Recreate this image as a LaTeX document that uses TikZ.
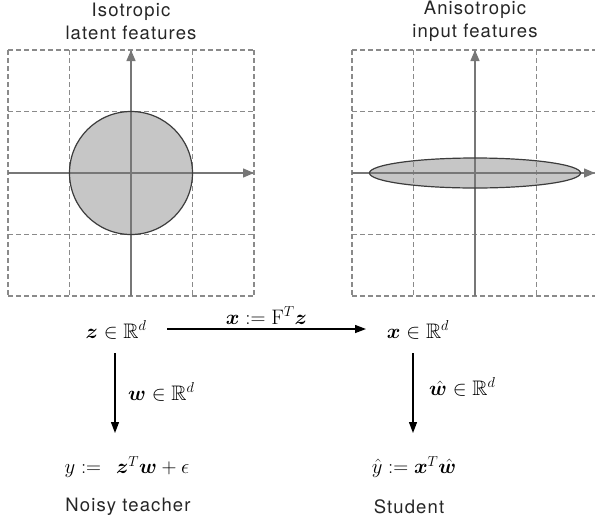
\documentclass[tikz,border=0pt]{standalone}
\usepackage{amsmath,amssymb,bm}
\usepackage{fontspec}
\newfontfamily\labelfont[LetterSpace=6]{TeX Gyre Heros}
\usetikzlibrary{arrows.meta}
\definecolor{gridc}{HTML}{8A8A8A}
\definecolor{axisc}{HTML}{777777}
\definecolor{shapefill}{HTML}{C6C6C6}
\definecolor{shapeedge}{HTML}{3C3C3C}
\tikzset{
  gridline/.style={draw=gridc, line width=1.1pt, dash pattern=on 4.5pt off 3.5pt},
  axisline/.style={draw=axisc, line width=1.4pt, -{Triangle[length=11pt,width=9pt]}},
  shapeline/.style={draw=shapeedge, line width=1.2pt},
  title/.style={font=\labelfont\fontsize{18.5}{23}\selectfont, align=center, text=black!85},
  mathnode/.style={font=\fontsize{21}{25}\selectfont, inner sep=2pt},
  caption/.style={font=\labelfont\fontsize{18.5}{23}\selectfont, text=black!85},
  arr/.style={draw=black, line width=1.3pt, -{Triangle[length=11pt,width=8pt]}},
}
\begin{document}
\begin{tikzpicture}[x=1pt,y=-1pt]
\useasboundingbox (0,0) rectangle (595,523);
\begin{scope}
\clip (0,0) rectangle (595,523);
% shapes (fill)
\fill[shapefill] (131,173) circle (61.5);
\fill[shapefill] (475,173) ellipse (105.5 and 15);
% grids
\foreach \i in {0,1,2,3,4} {
  \draw[gridline] (8+61.5*\i,50) -- (8+61.5*\i,296);
  \draw[gridline] (8,50+61.5*\i) -- (254,50+61.5*\i);
  \draw[gridline] (352+61.5*\i,50) -- (352+61.5*\i,296);
  \draw[gridline] (352,50+61.5*\i) -- (598,50+61.5*\i);
}
% axes
\draw[axisline] (131,296) -- (131,50);
\draw[axisline] (8,173) -- (254,173);
\draw[axisline] (475,296) -- (475,50);
\draw[axisline] (352,173) -- (595,173);
% outlines
\draw[shapeline] (131,173) circle (61.5);
\draw[shapeline] (475,173) ellipse (105.5 and 15);
\end{scope}
% titles
\node[title] (t1) at (131,21) {Isotropic\\latent features};
\node[title] (t2) at (475,21) {Anisotropic\\input features};
% math nodes
\node[mathnode] (zn) at (116,330) {$\bm{z}\in\mathbb{R}^d$};
\node[mathnode] (xn) at (418,330) {$\bm{x}\in\mathbb{R}^d$};
\node[mathnode] (yn) at (127,467) {$y:=\;\,\bm{z}^T\bm{w}+\epsilon$};
\node[mathnode] (yh) at (414,467) {$\hat{y}:=\bm{x}^T\hat{\bm{w}}$};
\node[caption] (c1) at (128,507) {Noisy teacher};
\node[caption] (c2) at (409,507) {Student};
% connectors
\coordinate (hs) at (167,329);
\coordinate (he) at (366,329);
\draw[arr] (hs) -- node[mathnode, above=2pt] (lab1) {$\bm{x}:=\mathrm{F}^T\bm{z}$} (he);
\coordinate (v1s) at (115,353);
\coordinate (v1e) at (115,433);
\draw[arr] (v1s) -- (v1e);
\coordinate (v2s) at (413,353);
\coordinate (v2e) at (413,433);
\draw[arr] (v2s) -- (v2e);
\node[mathnode, anchor=west] (lw) at (126,392) {$\bm{w}\in\mathbb{R}^d$};
\node[mathnode, anchor=west] (lwh) at (427,387) {$\hat{\bm{w}}\in\mathbb{R}^d$};
\end{tikzpicture}
\end{document}
